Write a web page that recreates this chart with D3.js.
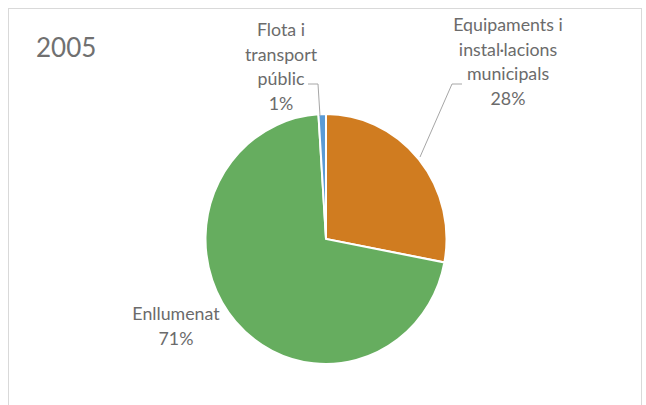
<!DOCTYPE html>
<html>
<head>
<meta charset="utf-8">
<script src="https://cdn.jsdelivr.net/npm/d3@7"></script>
<style>
  html, body { margin: 0; padding: 0; background: #fff; }
  svg { display: block; }
</style>
</head>
<body>
<svg id="chart" width="646" height="405"></svg>
<script>
const title = "2005";
const categories = ["Equipaments i instal·lacions municipals", "Enllumenat", "Flota i transport públic"];
const labelLines = [["Equipaments i", "instal·lacions", "municipals"], ["Enllumenat"], ["Flota i", "transport", "públic"]];
const values = [28, 71, 1];
const colors = ["#D07C20", "#66AD5F", "#5B9BD5"];

const svg = d3.select("#chart");
const W = 646, H = 405;
const font = "Lato, 'Open Sans', sans-serif";
const textColor = "#6b6b6b";

// chart frame
svg.append("rect").attr("x", 8.5).attr("y", 8.5).attr("width", 633).attr("height", 410)
  .attr("fill", "#fff").attr("stroke", "#d9d9d9").attr("stroke-width", 1);

svg.append("text").attr("x", 36).attr("y", 57).text(title)
  .attr("font-family", font).attr("font-size", 26).attr("fill", "#707070");

const cx = 326, cy = 239, rx = 120.5, ry = 125;
const pie = d3.pie().sort(null).value(d => d)(values);
const arc = d3.arc().innerRadius(0).outerRadius(rx);

const g = svg.append("g").attr("transform", `translate(${cx},${cy}) scale(1,${ry/rx})`);
g.selectAll("path").data(pie).join("path")
  .attr("d", arc)
  .attr("fill", (d, i) => colors[i])
  .attr("stroke", "#fff").attr("stroke-width", 2).attr("stroke-linejoin", "miter");

// label positions (text center x, first baseline y)
const labelPos = [{x: 508, y: 31}, {x: 176, y: 320}, {x: 281, y: 36}];
const lh = 24.5;
labelLines.forEach((lines, i) => {
  const all = lines.concat([values[i] + "%"]);
  const t = svg.append("text").attr("text-anchor", "middle")
    .attr("font-family", font).attr("font-size", 17.8).attr("fill", textColor);
  all.forEach((s, j) => {
    t.append("tspan").attr("x", labelPos[i].x).attr("y", labelPos[i].y + j * lh).text(s);
  });
});

// leader lines
const leader = d3.line();
const lines = [
  [[462, 84], [452, 84], [420, 157]],
  [[308, 84], [318, 84], [320, 116]]
];
svg.selectAll("path.leader").data(lines).join("path").attr("class", "leader")
  .attr("d", leader).attr("fill", "none").attr("stroke", "#a6a6a6").attr("stroke-width", 1);
</script>
</body>
</html>
